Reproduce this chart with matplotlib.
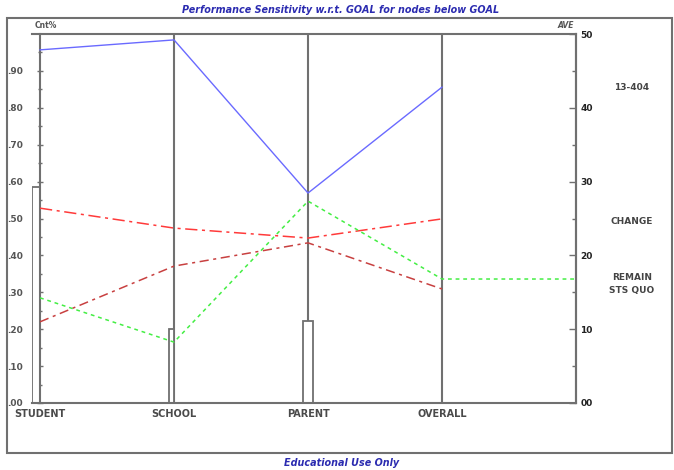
import matplotlib
matplotlib.use("Agg")
import matplotlib.pyplot as plt
from matplotlib.patches import Rectangle

categories = ["STUDENT", "SCHOOL", "PARENT", "OVERALL"]
blue_vals = [0.957, 0.984, 0.569, 0.856]
red_vals = [0.528, 0.474, 0.447, 0.499]
darkred_vals = [0.220, 0.371, 0.434, 0.309]
green_vals = [0.285, 0.165, 0.547, 0.336]
green_tail = 0.336
bar_vals = [0.585, 0.200, 0.222, 0.0]
left_ticks = [0.0, 0.1, 0.2, 0.3, 0.4, 0.5, 0.6, 0.7, 0.8, 0.9]
left_labels = [".00", ".10", ".20", ".30", ".40", ".50", ".60", ".70", ".80", ".90"]
right_ticks = [0, 10, 20, 30, 40, 50]
right_labels = ["00", "10", "20", "30", "40", "50"]
side_labels = ["13-404", "CHANGE", "REMAIN", "STS QUO"]
title = "Performance Sensitivity w.r.t. GOAL for nodes below GOAL"
footer = "Educational Use Only"

W, H = 674, 470
fig = plt.figure(figsize=(W / 100, H / 100), dpi=100)
ax = fig.add_axes([32 / W, 1 - 403 / H, (576 - 32) / W, (403 - 34) / H])

grey = "#707070"
xs = list(range(len(categories)))

# bars (hollow rectangles)
bar_lefts = [-0.06, 0.965, 1.96, 2.96]
bar_widths = [0.06, 0.035, 0.075, 0.06]
for l, w, v in zip(bar_lefts, bar_widths, bar_vals):
    if v > 0:
        ax.bar(l, v, width=w, align="edge", facecolor="white",
               edgecolor=grey, linewidth=1.3, zorder=2)

# vertical category axes
for x in xs[1:]:
    ax.axvline(x, color=grey, lw=1.5, zorder=1)

ax.plot(xs, blue_vals, color="#6a6aff", lw=1.0, zorder=3)
ax.plot(xs, red_vals, color="#ff3a3a", lw=1.1, dashes=(8, 3, 2, 3), zorder=3)
ax.plot(xs, darkred_vals, color="#c84040", lw=1.1, dashes=(6, 3, 2, 3), zorder=3)
ax.plot(xs + [4], green_vals + [green_tail], color="#44ee44", lw=1.1,
        dashes=(2.5, 2.5), zorder=3)

ax.set_xlim(-0.06, 4.0)
ax.set_ylim(0, 1.0)
ax.spines["left"].set_position(("data", 0))
for s in ax.spines.values():
    s.set_color(grey)
    s.set_linewidth(1.5)
ax.set_yticks(left_ticks)
ax.set_yticklabels(left_labels)
ax.set_yticks([0.05, 0.15, 0.25, 0.35, 0.45, 0.55, 0.65, 0.75, 0.85, 0.95], minor=True)
ax.tick_params(axis="y", which="both", direction="inout", length=5, width=1,
               colors=grey, labelcolor="#555555", labelsize=6.5, pad=10)
ax.tick_params(axis="y", which="minor", length=3)
for t in ax.get_yticklabels():
    t.set_fontweight("bold")
ax.set_xticks(xs)
ax.set_xticklabels(categories, fontsize=7, fontweight="bold", color="#4a4a4a")
ax.tick_params(axis="x", length=0, pad=4)

ax2 = ax.twinx()
ax2.set_ylim(0, 50)
ax2.set_yticks(right_ticks)
ax2.set_yticklabels(right_labels)
ax2.set_yticks([5, 15, 25, 35, 45], minor=True)
ax2.tick_params(axis="y", which="both", direction="in", length=5, width=1,
                colors=grey, labelcolor="#222222", labelsize=6.5, pad=3)
ax2.tick_params(axis="y", which="minor", length=3)
for t in ax2.get_yticklabels():
    t.set_fontweight("bold")
for s in ax2.spines.values():
    s.set_visible(False)
ax2.spines["right"].set_visible(True)
ax2.spines["right"].set_color(grey)
ax2.spines["right"].set_linewidth(1.5)

# outer frame
fig.patches.append(Rectangle((7 / W, 1 - 453 / H), (672 - 7) / W, (453 - 18) / H,
                             transform=fig.transFigure, fill=False,
                             edgecolor=grey, lw=1.5))

fig.text(341 / W, 1 - 10 / H, title, ha="center", va="center", fontsize=6.9,
         fontweight="bold", style="italic", color="#2b2bb0")
fig.text(342 / W, 1 - 463 / H, footer, ha="center", va="center", fontsize=6.9,
         fontweight="bold", style="italic", color="#2b2bb0")
fig.text(46 / W, 1 - 26 / H, "Cnt%", ha="center", va="center", fontsize=5.5,
         fontweight="bold", color="#555555")
fig.text(566 / W, 1 - 26 / H, "AVE", ha="center", va="center", fontsize=5.5,
         fontweight="bold", style="italic", color="#555555")

side_y = [88, 222, 277, 291]
for lab, yy in zip(side_labels, side_y):
    fig.text(632 / W, 1 - yy / H, lab, ha="center", va="center", fontsize=6.5,
             fontweight="bold", color="#444444")

fig.savefig("out.png", dpi=100, facecolor="white")
